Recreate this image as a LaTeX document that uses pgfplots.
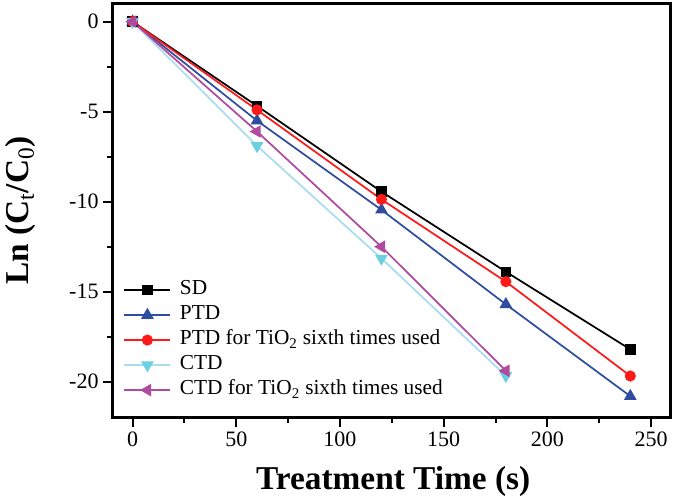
\documentclass[border=0pt]{standalone}
\usepackage{pgfplots}
\pgfplotsset{compat=1.18}
\usepackage{fontspec}
\setmainfont{Liberation Serif}
\definecolor{cblue}{HTML}{2F4DA0}
\definecolor{cred}{HTML}{FF1A1A}
\definecolor{clight}{HTML}{A8DDF0}
\definecolor{cmark}{HTML}{6CCFE0}
\definecolor{cmag}{HTML}{B04A9E}
\begin{document}
\begin{tikzpicture}
\begin{axis}[
  scale only axis, width=418.8pt, height=310.8pt,
  xmin=-9.8, xmax=259.5, ymin=-22, ymax=1.02,
  xtick={0,50,...,250}, ytick={-20,-15,...,0},
  minor tick num=1,
  tick pos=left, tick align=outside,
  major tick length=6.75pt, minor tick length=4pt,
  every tick/.style={line width=1.5pt, black},
  axis line style={line width=2pt},
  /pgf/number format/assume math mode=true,
  ticklabel style={font=\fontsize{16.5}{19}\selectfont},
  xlabel={\textbf{Treatment Time (s)}},
  ylabel={\textbf{Ln (C\textsubscript{\mdseries t}/C\textsubscript{\mdseries 0})}},
  label style={font=\fontsize{25}{28}\selectfont},
  xlabel style={at={(axis description cs:0.503,0)}, anchor=base, yshift=-53.5pt},
  ylabel style={at={(axis description cs:-0.1636,0.5)}, anchor=center},
  legend style={draw=none, fill=none, inner sep=0pt, at={(axis description cs:0.0197,0.042)}, anchor=south west,
    font=\fontsize{16}{18}\selectfont, row sep=3.75pt, column sep=0pt,
    nodes={inner sep=0pt, text height=11pt, text depth=4pt}},
  legend cell align=left,
  every axis plot/.append style={line width=1.3pt},
  legend image code/.code={\draw[#1] (0pt,0pt) -- (34.5pt,0pt); \draw[#1, mark repeat=2, mark phase=2] plot coordinates {(0pt,0pt) (17.25pt,0pt) (34.5pt,0pt)}; \path (41pt,0pt);},
]
\addplot[black, mark=square*, mark size=3.25pt] coordinates {(0,0) (60,-4.68) (120,-9.44) (180,-13.89) (240,-18.2)};
\addlegendentry{SD}
\addplot[cblue, mark=triangle*, mark size=4.2pt] coordinates {(0,0) (60,-5.5) (120,-10.45) (180,-15.7) (240,-20.8)};
\addlegendentry{PTD}
\addplot[cred, mark=*, mark size=3.5pt] coordinates {(0,0) (60,-4.9) (120,-9.87) (180,-14.44) (240,-19.68)};
\addlegendentry{PTD for TiO\textsubscript{2} sixth times used}
\addplot[clight, mark=triangle*, mark size=4.2pt, mark options={rotate=180, fill=cmark, draw=cmark}] coordinates {(0,0) (60,-6.9) (120,-13.15) (180,-19.67)};
\addlegendentry{CTD}
\addplot[cmag, mark=triangle*, mark size=4.2pt, mark options={rotate=90}] coordinates {(0,0) (60,-6.1) (120,-12.5) (180,-19.39)};
\addlegendentry{CTD for TiO\textsubscript{2} sixth times used}
\end{axis}
\pgfresetboundingbox
\path[use as bounding box] ([shift={(-84.2pt,-60.2pt)}]current axis.south west) rectangle ([shift={(3.2pt,2.5pt)}]current axis.north east);
\end{tikzpicture}
\end{document}
